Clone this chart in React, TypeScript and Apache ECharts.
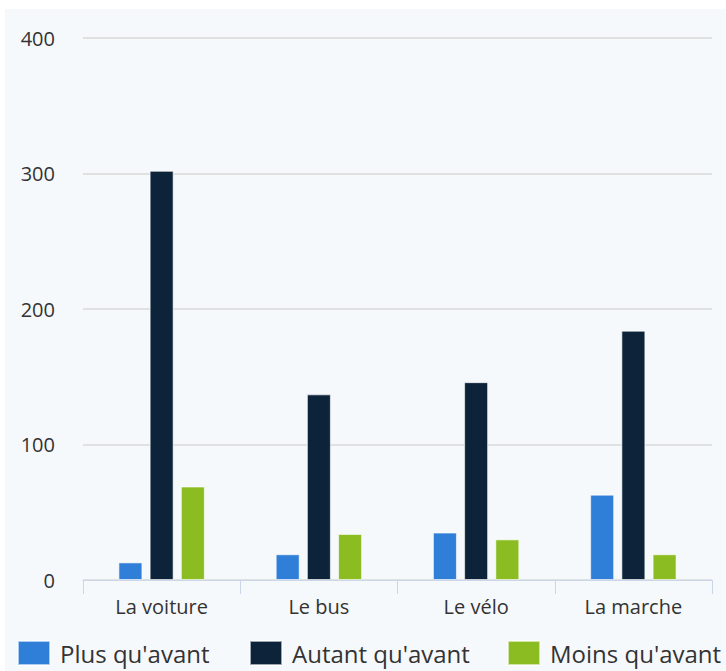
import React, { useEffect, useRef } from "react";
import * as echarts from "echarts";

const categories = ["La voiture", "Le bus", "Le vélo", "La marche"];
const seriesNames = ["Plus qu'avant", "Autant qu'avant", "Moins qu'avant"];
const plusValues = [13, 19, 35, 63];
const autantValues = [302, 137, 146, 184];
const moinsValues = [69, 34, 30, 19];
const colors = ["#2f7ed8", "#0d233a", "#8bbc21"];
const yTicks = [0, 100, 200, 300, 400];
const legendLefts = [17, 249, 507];

export default function App() {
  const ref = useRef<HTMLDivElement>(null);
  useEffect(() => {
    if (!ref.current) return;
    const chart = echarts.init(ref.current, null, { renderer: "svg" });
    const seriesData = [plusValues, autantValues, moinsValues];
    chart.setOption({
      animation: false,
      backgroundColor: "#ffffff",
      textStyle: { fontFamily: "Open Sans" },
      graphic: [
        {
          type: "rect",
          z: -10,
          silent: true,
          shape: { x: 5, y: 9, width: 721, height: 662 },
          style: { fill: "#f6f9fc" },
        },
      ],
      grid: { left: 83, right: 14, top: 38, bottom: 91, containLabel: false },
      legend: seriesNames.map((name, i) => ({
        left: legendLefts[i],
        top: 640,
        padding: 0,
        itemWidth: 32,
        itemHeight: 24,
        icon: "rect",
        data: [name],
        textStyle: { fontSize: 24, color: "#333333", fontFamily: "Open Sans", padding: [0, 0, 0, 5] },
      })),
      xAxis: {
        type: "category",
        data: categories,
        axisLine: { lineStyle: { color: "#ccd6eb", width: 1 } },
        axisTick: { show: true, length: 14, lineStyle: { color: "#ccd6eb" } },
        axisLabel: { fontSize: 20, color: "#333333", margin: 16, fontFamily: "Open Sans" },
      },
      yAxis: {
        type: "value",
        min: 0,
        max: 400,
        interval: 100,
        axisLine: { show: false },
        axisTick: { show: false },
        splitLine: { lineStyle: { color: "#d8d8d8", width: 1.5 } },
        axisLabel: {
          fontSize: 20,
          color: "#333333",
          margin: 28,
          fontFamily: "Open Sans",
          formatter: (v: number) => (yTicks.includes(v) ? String(v) : ""),
        },
      },
      series: seriesNames.map((name, i) => ({
        name,
        type: "bar",
        data: seriesData[i],
        barWidth: 24,
        barGap: "30%",
        itemStyle: { color: colors[i], borderColor: "rgba(255,255,255,0.6)", borderWidth: 1 },
      })),
    });
    return () => chart.dispose();
  }, []);
  return (
    <div
      ref={ref}
      style={{ position: "absolute", left: 0, top: 0, width: 726, height: 671 }}
    />
  );
}
